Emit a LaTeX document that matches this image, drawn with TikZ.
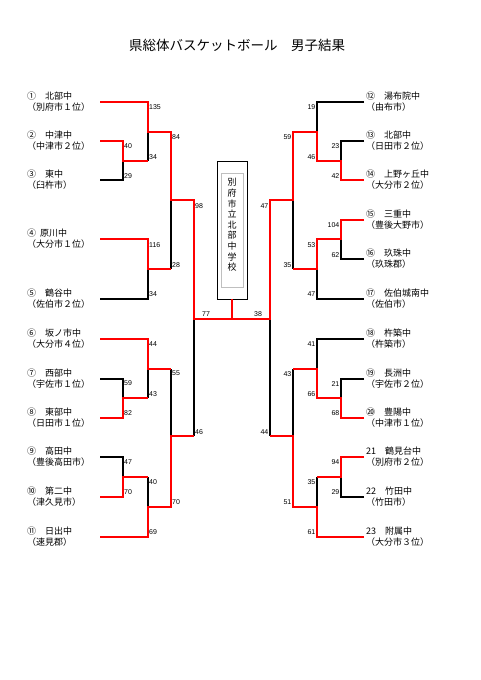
\documentclass[tikz,border=0pt]{standalone}
\usepackage{fontspec}
\setmainfont{Liberation Sans}
\newfontfamily\cjk{Noto Sans CJK JP}
\begin{document}
\begin{tikzpicture}[x=1pt,y=-1pt,
  bk/.style={line width=1.1pt,black},
  rd/.style={line width=1.7pt,red},
  sc/.style={font=\fontsize{7}{8}\selectfont,inner sep=0pt},
  scl/.style={sc,anchor=west},
  scr/.style={sc,anchor=east},
  team/.style={font=\cjk\fontsize{9}{11}\selectfont,align=left,anchor=west,inner sep=0pt}]
\useasboundingbox (0,0) rectangle (481,680);
\fill[white] (0,0) rectangle (481,680);
% title
\node[font=\cjk\fontsize{13.5}{15}\selectfont] (title) at (237,45) {県総体バスケットボール　男子結果};
% center box
\node[draw,line width=0.8pt,minimum width=30pt,minimum height=138pt,inner sep=0pt] (box) at (232,230) {};
\node[draw=gray!50,line width=0.8pt,minimum width=22pt,minimum height=114pt,inner sep=0pt] (inbox) at (232,230) {};
\node[font=\cjk\fontsize{9}{10.6}\selectfont,align=center,inner sep=0pt] (school) at (232,225) {別\\府\\市\\立\\北\\部\\中\\学\\校};
% black lines
\draw[bk] (148,132)--(148,161);
\draw[bk] (100,180)--(123,180)--(123,161);
\draw[bk] (171,200)--(171,269);
\draw[bk] (100,299)--(148,299)--(148,269);
\draw[bk] (194,319)--(194,436);
\draw[bk] (148,369)--(148,398);
\draw[bk] (100,379)--(123,379)--(123,398);
\draw[bk] (171,369)--(171,436);
\draw[bk] (100,457)--(123,457)--(123,477);
\draw[bk] (148,477)--(148,507);
\draw[bk] (364,102)--(317,102)--(317,132);
\draw[bk] (364,141)--(341,141)--(341,161);
\draw[bk] (293,200)--(293,269);
\draw[bk] (364,259)--(341,259)--(341,239);
\draw[bk] (317,269)--(317,299)--(364,299);
\draw[bk] (270,319)--(270,436);
\draw[bk] (364,339)--(317,339)--(317,369);
\draw[bk] (364,379)--(341,379)--(341,398);
\draw[bk] (293,369)--(293,436);
\draw[bk] (364,497)--(341,497)--(341,477);
\draw[bk] (317,477)--(317,507);
% red lines
\draw[rd] (100,102)--(148,102)--(148,132)--(171,132)--(171,200)--(194,200)--(194,319)--(270,319)--(270,200)--(293,200)--(293,132)--(317,132)--(317,161)--(341,161)--(341,180)--(364,180);
\draw[rd] (100,141)--(123,141)--(123,161)--(148,161);
\draw[rd] (100,239)--(148,239)--(148,269)--(171,269);
\draw[rd] (box.south)--(232,319);
\draw[rd] (100,339)--(148,339)--(148,369)--(171,369);
\draw[rd] (100,418)--(123,418)--(123,398)--(148,398);
\draw[rd] (100,537)--(148,537)--(148,507)--(171,507)--(171,436)--(194,436);
\draw[rd] (100,497)--(123,497)--(123,477)--(148,477);
\draw[rd] (364,220)--(341,220)--(341,239)--(317,239)--(317,269)--(293,269);
\draw[rd] (364,418)--(341,418)--(341,398)--(317,398)--(317,369)--(293,369);
\draw[rd] (364,537)--(317,537)--(317,507)--(293,507)--(293,436)--(270,436);
\draw[rd] (364,457)--(341,457)--(341,477)--(317,477);
% left scores
\node[scl] (s1) at (149,107) {135};
\node[scl] (s2) at (124,146) {40};
\node[scl] (s3) at (124,176) {29};
\node[scl] (s4) at (149,157) {34};
\node[scl] (s5) at (172,137) {84};
\node[scl] (s6) at (195,206) {98};
\node[scl] (s7) at (149,245) {116};
\node[scl] (s8) at (149,294) {34};
\node[scl] (s9) at (172,265) {28};
\node[sc] (s10) at (206,314) {77};
\node[sc] (s11) at (258,314) {38};
\node[scl] (s12) at (149,344) {44};
\node[scl] (s13) at (124,383) {59};
\node[scl] (s14) at (124,413) {82};
\node[scl] (s15) at (149,394) {43};
\node[scl] (s16) at (172,373) {55};
\node[scl] (s17) at (195,432) {46};
\node[scl] (s18) at (124,462) {47};
\node[scl] (s19) at (124,492) {70};
\node[scl] (s20) at (149,482) {40};
\node[scl] (s21) at (149,532) {69};
\node[scl] (s22) at (172,502) {70};
% right scores
\node[scr] (r1) at (315.5,107) {19};
\node[scr] (r2) at (339.5,146) {23};
\node[scr] (r3) at (339.5,176) {42};
\node[scr] (r4) at (315.5,157) {46};
\node[scr] (r5) at (291.5,137) {59};
\node[scr] (r6) at (268.5,206) {47};
\node[scr] (r7) at (339.5,225) {104};
\node[scr] (r8) at (339.5,255) {62};
\node[scr] (r9) at (315.5,245) {53};
\node[scr] (r10) at (315.5,294) {47};
\node[scr] (r11) at (291.5,265) {35};
\node[scr] (r12) at (315.5,344) {41};
\node[scr] (r13) at (339.5,384) {21};
\node[scr] (r14) at (339.5,413) {68};
\node[scr] (r15) at (315.5,394) {66};
\node[scr] (r16) at (291.5,374) {43};
\node[scr] (r17) at (268.5,432) {44};
\node[scr] (r18) at (339.5,462) {94};
\node[scr] (r19) at (339.5,492) {29};
\node[scr] (r20) at (315.5,482) {35};
\node[scr] (r21) at (315.5,532) {61};
\node[scr] (r22) at (291.5,502) {51};
% left teams
\node[team] (t1) at (27,102) {①　北部中\\（別府市１位）};
\node[team] (t2) at (27,141) {②　中津中\\（中津市２位）};
\node[team] (t3) at (27,180) {③　東中\\（臼杵市）};
\node[team] (t4) at (27,239) {④\hspace{4pt}原川中\\（大分市１位）};
\node[team] (t5) at (27,299) {⑤　鶴谷中\\（佐伯市２位）};
\node[team] (t6) at (27,339) {⑥　坂ノ市中\\（大分市４位）};
\node[team] (t7) at (27,379) {⑦　西部中\\（宇佐市１位）};
\node[team] (t8) at (27,418) {⑧　東部中\\（日田市１位）};
\node[team] (t9) at (27,457) {⑨　高田中\\（豊後高田市）};
\node[team] (t10) at (27,497) {⑩　第二中\\（津久見市）};
\node[team] (t11) at (27,537) {⑪　日出中\\（速見郡）};
% right teams
\node[team] (t12) at (366,102) {⑫　湯布院中\\（由布市）};
\node[team] (t13) at (366,141) {⑬　北部中\\（日田市２位）};
\node[team] (t14) at (366,180) {⑭　上野ヶ丘中\\（大分市２位）};
\node[team] (t15) at (366,220) {⑮　三重中\\（豊後大野市）};
\node[team] (t16) at (366,259) {⑯　玖珠中\\（玖珠郡）};
\node[team] (t17) at (366,299) {⑰　佐伯城南中\\（佐伯市）};
\node[team] (t18) at (366,339) {⑱　杵築中\\（杵築市）};
\node[team] (t19) at (366,379) {⑲　長洲中\\（宇佐市２位）};
\node[team] (t20) at (366,418) {⑳　豊陽中\\（中津市１位）};
\node[team] (t21) at (366,457) {21　鶴見台中\\（別府市２位）};
\node[team] (t22) at (366,497) {22　竹田中\\（竹田市）};
\node[team] (t23) at (366,537) {23　附属中\\（大分市３位）};
\end{tikzpicture}
\end{document}
